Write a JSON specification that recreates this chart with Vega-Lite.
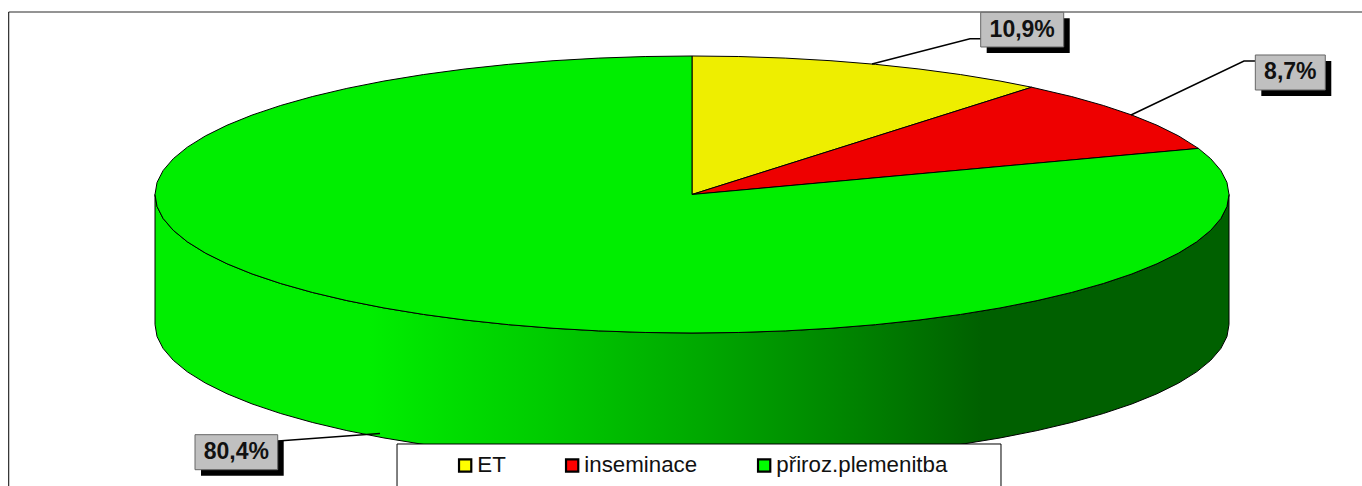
{
"$schema":"https://vega.github.io/schema/vega-lite/v6.json",
"width":1362,"height":486,"padding":0,"autosize":{"type":"none"},"background":"white",
"config":{"view":{"stroke":null},"font":"Liberation Sans"},
"datasets":{
"labels":[
{"slice":"ET","share":10.9,"label":"10,9%","x":0.5376,"x2":0.6922,"y":1.3156,"y2":1.065,"cx":0.6149,"cy":1.1905},
{"slice":"inseminace","share":8.7,"label":"8,7%","x":1.049,"x2":1.1793,"y":1.0072,"y2":0.7545,"cx":1.1142,"cy":0.8809},
{"slice":"přiroz.plemenitba","share":80.4,"label":"80,4%","x":-0.9255,"x2":-0.7715,"y":-1.7343,"y2":-1.987,"cx":-0.8486,"cy":-1.8607}
],
"leaders":[
{"slice":"ET","step":1,"x":0.3352,"y":0.9422},{"slice":"ET","step":2,"x":0.5177,"y":1.1249},{"slice":"ET","step":3,"x":0.5382,"y":1.1249},
{"slice":"inseminace","step":1,"x":0.8175,"y":0.574},{"slice":"inseminace","step":2,"x":1.0279,"y":0.9639},{"slice":"inseminace","step":3,"x":1.0484,"y":0.9639},
{"slice":"přiroz.plemenitba","step":1,"x":-0.581,"y":-1.7256},{"slice":"přiroz.plemenitba","step":2,"x":-0.7709,"y":-1.7798}
],
"wall":[
{"step":1,"x":1,"y":0},{"step":2,"x":0.9962,"y":-0.0872},{"step":3,"x":0.9848,"y":-0.1736},{"step":4,"x":0.9659,"y":-0.2588},{"step":5,"x":0.9397,"y":-0.342},{"step":6,"x":0.9063,"y":-0.4226},{"step":7,"x":0.866,"y":-0.5},{"step":8,"x":0.8192,"y":-0.5736},{"step":9,"x":0.766,"y":-0.6428},{"step":10,"x":0.7071,"y":-0.7071},{"step":11,"x":0.6428,"y":-0.766},{"step":12,"x":0.5736,"y":-0.8192},{"step":13,"x":0.5,"y":-0.866},{"step":14,"x":0.4226,"y":-0.9063},{"step":15,"x":0.342,"y":-0.9397},{"step":16,"x":0.2588,"y":-0.9659},{"step":17,"x":0.1736,"y":-0.9848},{"step":18,"x":0.0872,"y":-0.9962},{"step":19,"x":0,"y":-1},
{"step":20,"x":-0.0872,"y":-0.9962},{"step":21,"x":-0.1736,"y":-0.9848},{"step":22,"x":-0.2588,"y":-0.9659},{"step":23,"x":-0.342,"y":-0.9397},{"step":24,"x":-0.4226,"y":-0.9063},{"step":25,"x":-0.5,"y":-0.866},{"step":26,"x":-0.5736,"y":-0.8192},{"step":27,"x":-0.6428,"y":-0.766},{"step":28,"x":-0.7071,"y":-0.7071},{"step":29,"x":-0.766,"y":-0.6428},{"step":30,"x":-0.8192,"y":-0.5736},{"step":31,"x":-0.866,"y":-0.5},{"step":32,"x":-0.9063,"y":-0.4226},{"step":33,"x":-0.9397,"y":-0.342},{"step":34,"x":-0.9659,"y":-0.2588},{"step":35,"x":-0.9848,"y":-0.1736},{"step":36,"x":-0.9962,"y":-0.0872},{"step":37,"x":-1,"y":0},
{"step":38,"x":-1,"y":-0.9386},{"step":39,"x":-0.9962,"y":-1.0258},{"step":40,"x":-0.9848,"y":-1.1122},{"step":41,"x":-0.9659,"y":-1.1974},{"step":42,"x":-0.9397,"y":-1.2806},{"step":43,"x":-0.9063,"y":-1.3612},{"step":44,"x":-0.866,"y":-1.4386},{"step":45,"x":-0.8192,"y":-1.5122},{"step":46,"x":-0.766,"y":-1.5814},{"step":47,"x":-0.7071,"y":-1.6457},{"step":48,"x":-0.6428,"y":-1.7046},{"step":49,"x":-0.5736,"y":-1.7578},{"step":50,"x":-0.5,"y":-1.8046},{"step":51,"x":-0.4226,"y":-1.8449},{"step":52,"x":-0.342,"y":-1.8783},{"step":53,"x":-0.2588,"y":-1.9045},{"step":54,"x":-0.1736,"y":-1.9234},{"step":55,"x":-0.0872,"y":-1.9348},{"step":56,"x":0,"y":-1.9386},
{"step":57,"x":0.0872,"y":-1.9348},{"step":58,"x":0.1736,"y":-1.9234},{"step":59,"x":0.2588,"y":-1.9045},{"step":60,"x":0.342,"y":-1.8783},{"step":61,"x":0.4226,"y":-1.8449},{"step":62,"x":0.5,"y":-1.8046},{"step":63,"x":0.5736,"y":-1.7578},{"step":64,"x":0.6428,"y":-1.7046},{"step":65,"x":0.7071,"y":-1.6457},{"step":66,"x":0.766,"y":-1.5814},{"step":67,"x":0.8192,"y":-1.5122},{"step":68,"x":0.866,"y":-1.4386},{"step":69,"x":0.9063,"y":-1.3612},{"step":70,"x":0.9397,"y":-1.2806},{"step":71,"x":0.9659,"y":-1.1974},{"step":72,"x":0.9848,"y":-1.1122},{"step":73,"x":0.9962,"y":-1.0258},{"step":74,"x":1,"y":-0.9386},{"step":75,"x":1,"y":0}
],
"wedges":[
{"slice":"ET","step":1,"x":0,"y":0},{"slice":"ET","step":2,"x":0,"y":1},{"slice":"ET","step":3,"x":0.0872,"y":0.9962},{"slice":"ET","step":4,"x":0.1736,"y":0.9848},{"slice":"ET","step":5,"x":0.2588,"y":0.9659},{"slice":"ET","step":6,"x":0.342,"y":0.9397},{"slice":"ET","step":7,"x":0.4226,"y":0.9063},{"slice":"ET","step":8,"x":0.5,"y":0.866},{"slice":"ET","step":9,"x":0.5736,"y":0.8192},{"slice":"ET","step":10,"x":0.6326,"y":0.7745},{"slice":"ET","step":11,"x":0,"y":0},
{"slice":"inseminace","step":1,"x":0,"y":0},{"slice":"inseminace","step":2,"x":0.6326,"y":0.7745},{"slice":"inseminace","step":3,"x":0.7071,"y":0.7071},{"slice":"inseminace","step":4,"x":0.766,"y":0.6428},{"slice":"inseminace","step":5,"x":0.8192,"y":0.5736},{"slice":"inseminace","step":6,"x":0.866,"y":0.5},{"slice":"inseminace","step":7,"x":0.9063,"y":0.4226},{"slice":"inseminace","step":8,"x":0.943,"y":0.3328},{"slice":"inseminace","step":9,"x":0,"y":0},
{"slice":"přiroz.plemenitba","step":1,"x":0,"y":0},{"slice":"přiroz.plemenitba","step":2,"x":0.943,"y":0.3328},{"slice":"přiroz.plemenitba","step":3,"x":0.9659,"y":0.2588},{"slice":"přiroz.plemenitba","step":4,"x":0.9848,"y":0.1736},{"slice":"přiroz.plemenitba","step":5,"x":0.9962,"y":0.0872},{"slice":"přiroz.plemenitba","step":6,"x":1,"y":0},
{"slice":"přiroz.plemenitba","step":7,"x":0.9962,"y":-0.0872},{"slice":"přiroz.plemenitba","step":8,"x":0.9848,"y":-0.1736},{"slice":"přiroz.plemenitba","step":9,"x":0.9659,"y":-0.2588},{"slice":"přiroz.plemenitba","step":10,"x":0.9397,"y":-0.342},{"slice":"přiroz.plemenitba","step":11,"x":0.9063,"y":-0.4226},{"slice":"přiroz.plemenitba","step":12,"x":0.866,"y":-0.5},{"slice":"přiroz.plemenitba","step":13,"x":0.8192,"y":-0.5736},{"slice":"přiroz.plemenitba","step":14,"x":0.766,"y":-0.6428},{"slice":"přiroz.plemenitba","step":15,"x":0.7071,"y":-0.7071},{"slice":"přiroz.plemenitba","step":16,"x":0.6428,"y":-0.766},{"slice":"přiroz.plemenitba","step":17,"x":0.5736,"y":-0.8192},{"slice":"přiroz.plemenitba","step":18,"x":0.5,"y":-0.866},{"slice":"přiroz.plemenitba","step":19,"x":0.4226,"y":-0.9063},{"slice":"přiroz.plemenitba","step":20,"x":0.342,"y":-0.9397},{"slice":"přiroz.plemenitba","step":21,"x":0.2588,"y":-0.9659},{"slice":"přiroz.plemenitba","step":22,"x":0.1736,"y":-0.9848},{"slice":"přiroz.plemenitba","step":23,"x":0.0872,"y":-0.9962},{"slice":"přiroz.plemenitba","step":24,"x":0,"y":-1},
{"slice":"přiroz.plemenitba","step":25,"x":-0.0872,"y":-0.9962},{"slice":"přiroz.plemenitba","step":26,"x":-0.1736,"y":-0.9848},{"slice":"přiroz.plemenitba","step":27,"x":-0.2588,"y":-0.9659},{"slice":"přiroz.plemenitba","step":28,"x":-0.342,"y":-0.9397},{"slice":"přiroz.plemenitba","step":29,"x":-0.4226,"y":-0.9063},{"slice":"přiroz.plemenitba","step":30,"x":-0.5,"y":-0.866},{"slice":"přiroz.plemenitba","step":31,"x":-0.5736,"y":-0.8192},{"slice":"přiroz.plemenitba","step":32,"x":-0.6428,"y":-0.766},{"slice":"přiroz.plemenitba","step":33,"x":-0.7071,"y":-0.7071},{"slice":"přiroz.plemenitba","step":34,"x":-0.766,"y":-0.6428},{"slice":"přiroz.plemenitba","step":35,"x":-0.8192,"y":-0.5736},{"slice":"přiroz.plemenitba","step":36,"x":-0.866,"y":-0.5},{"slice":"přiroz.plemenitba","step":37,"x":-0.9063,"y":-0.4226},{"slice":"přiroz.plemenitba","step":38,"x":-0.9397,"y":-0.342},{"slice":"přiroz.plemenitba","step":39,"x":-0.9659,"y":-0.2588},{"slice":"přiroz.plemenitba","step":40,"x":-0.9848,"y":-0.1736},{"slice":"přiroz.plemenitba","step":41,"x":-0.9962,"y":-0.0872},{"slice":"přiroz.plemenitba","step":42,"x":-1,"y":0},
{"slice":"přiroz.plemenitba","step":43,"x":-0.9962,"y":0.0872},{"slice":"přiroz.plemenitba","step":44,"x":-0.9848,"y":0.1736},{"slice":"přiroz.plemenitba","step":45,"x":-0.9659,"y":0.2588},{"slice":"přiroz.plemenitba","step":46,"x":-0.9397,"y":0.342},{"slice":"přiroz.plemenitba","step":47,"x":-0.9063,"y":0.4226},{"slice":"přiroz.plemenitba","step":48,"x":-0.866,"y":0.5},{"slice":"přiroz.plemenitba","step":49,"x":-0.8192,"y":0.5736},{"slice":"přiroz.plemenitba","step":50,"x":-0.766,"y":0.6428},{"slice":"přiroz.plemenitba","step":51,"x":-0.7071,"y":0.7071},{"slice":"přiroz.plemenitba","step":52,"x":-0.6428,"y":0.766},{"slice":"přiroz.plemenitba","step":53,"x":-0.5736,"y":0.8192},{"slice":"přiroz.plemenitba","step":54,"x":-0.5,"y":0.866},{"slice":"přiroz.plemenitba","step":55,"x":-0.4226,"y":0.9063},{"slice":"přiroz.plemenitba","step":56,"x":-0.342,"y":0.9397},{"slice":"přiroz.plemenitba","step":57,"x":-0.2588,"y":0.9659},{"slice":"přiroz.plemenitba","step":58,"x":-0.1736,"y":0.9848},{"slice":"přiroz.plemenitba","step":59,"x":-0.0872,"y":0.9962},{"slice":"přiroz.plemenitba","step":60,"x":0,"y":1},{"slice":"přiroz.plemenitba","step":61,"x":0,"y":0}
]
},
"data":{"name":"labels"},
"encoding":{
"x":{"field":"x","type":"quantitative","axis":null,"scale":{"domain":[-1.28864,1.24767],"nice":false,"zero":false}},
"y":{"field":"y","type":"quantitative","axis":null,"scale":{"domain":[-2.1047,1.4043],"nice":false,"zero":false}}
},
"layer":[
{"data":{"values":[{"x":-1.2724,"x2":1.2477,"y":1.3177}]},"mark":{"type":"rule","color":"#707070","strokeWidth":1.5},"encoding":{"x2":{"field":"x2"}}},
{"data":{"values":[{"x":-1.2724,"y":1.3177,"y2":-2.1047}]},"mark":{"type":"rule","color":"black","strokeWidth":1},"encoding":{"y2":{"field":"y2"}}},
{"mark":{"type":"point","filled":true,"shape":"square","size":150,"opacity":1,"stroke":"black","strokeWidth":2.2},
 "encoding":{"x":{"datum":0},"y":{"datum":0},
 "color":{"field":"slice","type":"nominal","title":null,
  "scale":{"domain":["ET","inseminace","přiroz.plemenitba"],"range":["#ffff00","#ff0000","#00ff00"]},
  "legend":{"orient":"none","legendX":454,"legendY":454,"direction":"horizontal","columns":3,"columnPadding":55,"padding":0,"symbolType":"square","symbolSize":150,"symbolStrokeColor":"black","symbolStrokeWidth":2.2,"symbolOpacity":1,"labelFont":"Liberation Sans","labelFontSize":22.3,"labelColor":"#111111","labelOffset":1,"labelLimit":300,"title":null}}}},
{"data":{"name":"wall"},"mark":{"type":"line","interpolate":"linear","stroke":"black","strokeWidth":1,
 "fill":{"gradient":"linear","x1":0,"x2":1,"y1":0,"y2":0,"stops":[{"offset":0,"color":"#00ee00"},{"offset":0.2,"color":"#00ee00"},{"offset":0.36,"color":"#00cc00"},{"offset":0.51,"color":"#00a800"},{"offset":0.66,"color":"#008000"},{"offset":0.77,"color":"#006000"},{"offset":1,"color":"#006000"}]}},
 "encoding":{"order":{"field":"step","type":"quantitative"}}},
{"data":{"name":"wedges"},"mark":{"type":"line","interpolate":"linear","stroke":"black","strokeWidth":1},
 "encoding":{"order":{"field":"step","type":"quantitative"},
 "fill":{"field":"slice","type":"nominal","legend":null,"scale":{"domain":["ET","inseminace","přiroz.plemenitba"],"range":["#eeee00","#ee0000","#00ee00"]}}}},
{"data":{"values":[{"x":-0.5493,"x2":0.5754,"y":-1.8014,"y2":-2.11}]},"mark":{"type":"rect","fill":"white","stroke":"black","strokeWidth":1},"encoding":{"x2":{"field":"x2"},"y2":{"field":"y2"}}},
{"data":{"name":"leaders"},"mark":{"type":"line","interpolate":"linear","color":"black","strokeWidth":1.5},"encoding":{"detail":{"field":"slice"},"order":{"field":"step","type":"quantitative"}}},
{"mark":{"type":"rect","fill":"black","xOffset":6,"x2Offset":6,"yOffset":6,"y2Offset":6},"encoding":{"x2":{"field":"x2"},"y2":{"field":"y2"}}},
{"mark":{"type":"rect","fill":"#c0c0c0","stroke":"#666666","strokeWidth":1},"encoding":{"x2":{"field":"x2"},"y2":{"field":"y2"}}},
{"mark":{"type":"text","font":"Liberation Sans","fontWeight":"bold","fontSize":23,"color":"#111111","align":"center","baseline":"middle"},
 "encoding":{"x":{"field":"cx","type":"quantitative"},"y":{"field":"cy","type":"quantitative"},"text":{"field":"label"}}}
]
}
